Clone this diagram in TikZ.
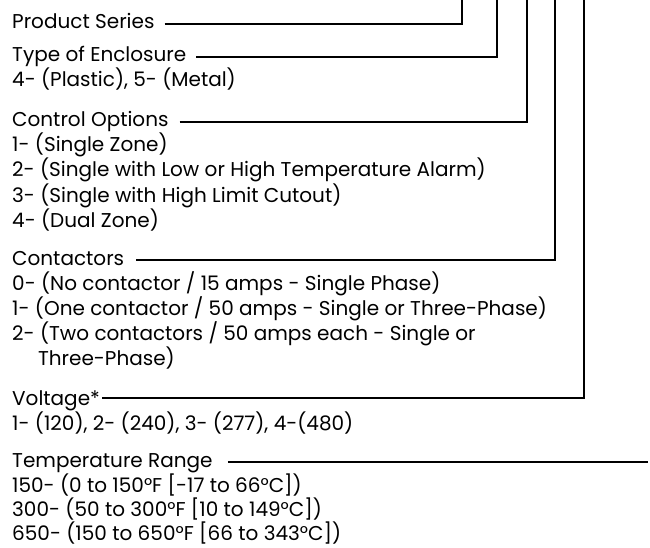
\documentclass[tikz,border=0pt]{standalone}
\usepackage{fontspec}
\setmainfont{Poppins}
\usetikzlibrary{calc}
\begin{document}
\begin{tikzpicture}[x=1pt, y=-1pt,
                    font=\fontsize{20}{25}\selectfont,
                    item/.style={anchor=base west, inner sep=0pt},
                    leader/.style={line width=2.6pt, line join=miter, black}
                ]
                \useasboundingbox (0,0) rectangle (650,548);

                % top ends of the code columns
                \coordinate (cA) at (462,0);
                \coordinate (cB) at (497,0);
                \coordinate (cC) at (527,0);
                \coordinate (cD) at (555,0);
                \coordinate (cE) at (584,0);
                \coordinate (cF) at (648,462);

                % Product Series
                \node[item] (ps) at (12,29) {Product Series};
                \draw[leader] ($(ps.base east)+(10,-5)$) -| (cA);

                % Type of Enclosure
                \node[item] (te) at (12,62) {Type of Enclosure};
                \draw[leader] ($(te.base east)+(10,-5)$) -| (cB);
                \node[item] at (12,87) {4- (Plastic), 5- (Metal)};

                % Control Options
                \node[item] (co) at (12,127) {Control Options};
                \draw[leader] ($(co.base east)+(11,-5)$) -| (cC);
                \node[item] at (12,152) {1- (Single Zone)};
                \node[item] at (12,177) {2- (Single with Low or High Temperature Alarm)};
                \node[item] at (12,202) {3- (Single with High Limit Cutout)};
                \node[item] at (12,227) {4- (Dual Zone)};

                % Contactors
                \node[item] (ct) at (12,265) {Contactors};
                \draw[leader] ($(ct.base east)+(12,-5)$) -| (cD);
                \node[item] at (12,290) {0- (No contactor / 15 amps - Single Phase)};
                \node[item] at (12,315) {1- (One contactor / 50 amps - Single or Three-Phase)};
                \node[item] at (12,340) {2- (Two contactors / 50 amps each - Single or};
                \node[item] at (12,365) {\hphantom{2-}\,Three-Phase)};

                % Voltage
                \node[item] (vo) at (12,405) {Voltage*};
                \draw[leader] ($(vo.base east)+(2,-7)$) -| (cE);
                \node[item] at (12,430) {1- (120), 2- (240), 3- (277), 4-(480)};

                % Temperature Range
                \node[item] (tr) at (12,467) {Temperature Range};
                \draw[leader] ($(tr.base east)+(15,-5)$) -- (cF);
                \node[item] at (12,492) {150- (0 to 150°F [-17 to 66°C])};
                \node[item] at (12,516) {300- (50 to 300°F [10 to 149°C])};
                \node[item] at (12,540) {650- (150 to 650°F [66 to 343°C])};

            \end{tikzpicture}
\end{document}
